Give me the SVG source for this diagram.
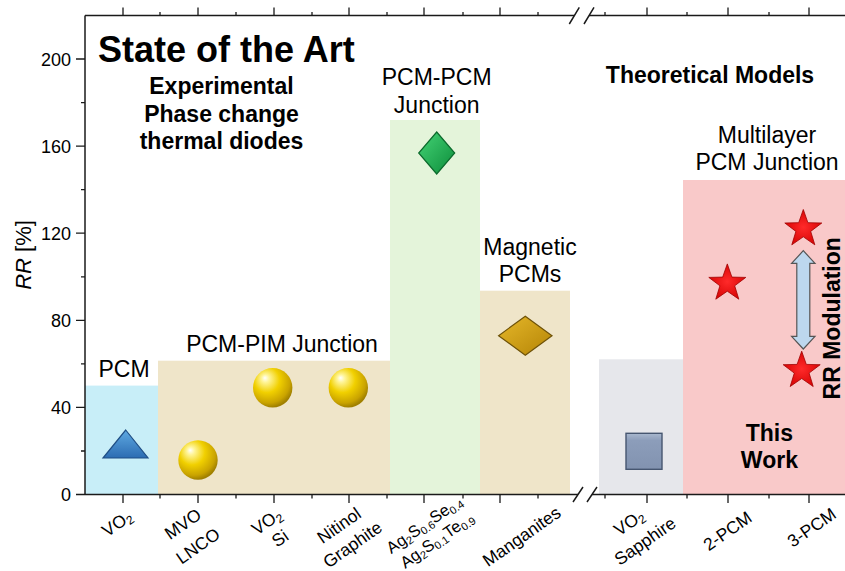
<svg xmlns="http://www.w3.org/2000/svg" width="845" height="571" viewBox="0 0 845 571">
<defs>
<style>
text{font-family:"Liberation Sans",Arial,sans-serif;fill:#000}
.lbl{font-size:23px}
.bold{font-size:23px;font-weight:bold}
.tick{font-size:18px}
.xl{font-size:17.5px}
.xs{font-size:16.5px}
.ax{stroke:#1a1a1a;stroke-width:1.5;fill:none}
.tk{stroke:#1a1a1a;stroke-width:1.3;fill:none}
</style>
<radialGradient id="sph" cx="0.4" cy="0.35" r="0.65" fx="0.3" fy="0.25">
<stop offset="0" stop-color="#ffffff"/>
<stop offset="0.15" stop-color="#fff59a"/>
<stop offset="0.5" stop-color="#f1d000"/>
<stop offset="0.85" stop-color="#c9a300"/>
<stop offset="1" stop-color="#a08000"/>
</radialGradient>
<linearGradient id="tri" x1="0" y1="0" x2="0" y2="1">
<stop offset="0" stop-color="#5ea9e2"/>
<stop offset="1" stop-color="#2c6cb2"/>
</linearGradient>
<linearGradient id="grn" x1="0" y1="0" x2="1" y2="1">
<stop offset="0" stop-color="#45d476"/>
<stop offset="1" stop-color="#0c8c3a"/>
</linearGradient>
<linearGradient id="gld" x1="0" y1="0" x2="1" y2="1">
<stop offset="0" stop-color="#e6b82a"/>
<stop offset="1" stop-color="#b48406"/>
</linearGradient>
<linearGradient id="sq" x1="0" y1="0" x2="0" y2="1">
<stop offset="0" stop-color="#a9b8ce"/>
<stop offset="0.2" stop-color="#8c9dba"/>
<stop offset="1" stop-color="#8293b0"/>
</linearGradient>
<radialGradient id="str" cx="0.5" cy="0.5" r="0.6">
<stop offset="0" stop-color="#ff2a2a"/>
<stop offset="1" stop-color="#d20000"/>
</radialGradient>
<path id="star" d="M0,-19.5 L4.6,-6.3 L18.5,-6 L7.4,2.4 L11.5,15.8 L0,7.8 L-11.5,15.8 L-7.4,2.4 L-18.5,-6 L-4.6,-6.3 Z" fill="url(#str)" stroke="#a00000" stroke-width="0.8"/>
</defs>
<rect width="845" height="571" fill="#ffffff"/>

<g id="regions">
<rect id="reg-pcm" x="85" y="385.6" width="73" height="108.9" fill="#c8eef8"/>
<rect id="reg-pim" x="158" y="360.7" width="232" height="133.8" fill="#efe5c9"/>
<rect id="reg-pcmpcm" x="390" y="120" width="90" height="374.5" fill="#e4f4da"/>
<rect id="reg-mag" x="480" y="290.7" width="90" height="203.8" fill="#efe5c9"/>
<rect id="reg-sapph" x="599" y="359.3" width="84" height="135.2" fill="#e6e7eb"/>
<rect id="reg-this" x="683" y="180" width="162" height="314.5" fill="#f9c9c9"/>
</g>

<g id="axes">
<line class="ax" x1="85" y1="15.5" x2="85" y2="494.5"/>
<path class="ax" d="M85,15.5 H574 M589,15.5 H845"/>
<path class="ax" d="M85,494.5 H578 M592,494.5 H845"/>
<path class="ax" d="M569.3,24 L579.3,7.3 M584,24 L594,7.3"/>
<path class="ax" d="M573,502 L583,487 M587,502 L597,487"/>
<path class="tk" d="M85,494.5 H76 M85,407.4 H76 M85,320.3 H76 M85,233.2 H76 M85,146.1 H76 M85,59 H76 M85,451 H81 M85,363.9 H81 M85,276.8 H81 M85,189.7 H81 M85,102.6 H81"/>
<path class="tk" d="M123,15.5 V7.5 M198,15.5 V7.5 M274,15.5 V7.5 M349,15.5 V7.5 M424,15.5 V7.5 M500,15.5 V7.5 M647,15.5 V7.5 M728,15.5 V7.5 M809,15.5 V7.5 M160,15.5 V12 M236,15.5 V12 M312,15.5 V12 M387,15.5 V12 M463,15.5 V12 M538,15.5 V12 M605,15.5 V12 M687,15.5 V12 M769,15.5 V12"/>
<path class="tk" d="M123,494.5 V503 M198,494.5 V503 M274,494.5 V503 M349,494.5 V503 M424,494.5 V503 M500,494.5 V503 M647,494.5 V503 M728,494.5 V503 M809,494.5 V503 M160,494.5 V498.5 M236,494.5 V498.5 M312,494.5 V498.5 M387,494.5 V498.5 M463,494.5 V498.5 M538,494.5 V498.5 M605,494.5 V498.5 M687,494.5 V498.5 M769,494.5 V498.5"/>
<g text-anchor="end">
<text class="tick" x="71" y="501">0</text>
<text class="tick" x="71" y="413.9">40</text>
<text class="tick" x="71" y="326.8">80</text>
<text class="tick" x="71" y="239.7">120</text>
<text class="tick" x="71" y="152.6">160</text>
<text class="tick" x="71" y="65.5">200</text>
</g>
<g transform="translate(30.5,255) rotate(-90)"><text text-anchor="middle" font-size="22"><tspan font-style="italic">RR</tspan> [%]</text></g>
</g>

<g id="xlabels" text-anchor="middle">
<g transform="translate(117,523.3) rotate(-35)"><text class="xl" y="6">VO<tspan font-size="12" dy="3">2</tspan></text></g>
<g transform="translate(183,524) rotate(-35)"><text class="xl" y="6">MVO</text></g>
<g transform="translate(198,546) rotate(-35)"><text class="xl" y="6">LNCO</text></g>
<g transform="translate(266.7,521.7) rotate(-35)"><text class="xl" y="6">VO<tspan font-size="12" dy="3">2</tspan></text></g>
<g transform="translate(280,538.3) rotate(-35)"><text class="xl" y="6">Si</text></g>
<g transform="translate(339,525.5) rotate(-35)"><text class="xl" y="6">Nitinol</text></g>
<g transform="translate(352.5,544.5) rotate(-35)"><text class="xl" y="6">Graphite</text></g>
<g transform="translate(424,524) rotate(-35)"><text class="xs" y="6">Ag<tspan font-size="11" dy="3">2</tspan><tspan dy="-3">S</tspan><tspan font-size="11" dy="3">0.6</tspan><tspan dy="-3">Se</tspan><tspan font-size="11" dy="3">0.4</tspan></text></g>
<g transform="translate(436.7,539.5) rotate(-35)"><text class="xs" y="6">Ag<tspan font-size="11" dy="3">2</tspan><tspan dy="-3">S</tspan><tspan font-size="11" dy="3">0.1</tspan><tspan dy="-3">Te</tspan><tspan font-size="11" dy="3">0.9</tspan></text></g>
<g transform="translate(521.7,536.5) rotate(-35)"><text class="xl" y="6">Manganites</text></g>
<g transform="translate(629,522.5) rotate(-35)"><text class="xl" y="6">VO<tspan font-size="12" dy="3">2</tspan></text></g>
<g transform="translate(645,541) rotate(-35)"><text class="xl" y="6">Sapphire</text></g>
<g transform="translate(727.5,531) rotate(-35)"><text class="xl" y="6">2-PCM</text></g>
<g transform="translate(811.7,527.5) rotate(-35)"><text class="xl" y="6">3-PCM</text></g>
</g>

<g id="title">
<text x="98" y="62" font-size="36" font-weight="bold">State of the Art</text>
</g>
<g id="label-experimental" text-anchor="middle">
<text class="bold" x="221.5" y="94">Experimental</text>
<text class="bold" x="221.5" y="121.5">Phase change</text>
<text class="bold" x="221.5" y="149">thermal diodes</text>
</g>
<g id="label-theoretical">
<text class="bold" x="710" y="83" text-anchor="middle">Theoretical Models</text>
</g>
<g id="label-pcm"><text class="lbl" x="124" y="377" text-anchor="middle">PCM</text></g>
<g id="label-pim"><text class="lbl" x="282" y="352" text-anchor="middle">PCM-PIM Junction</text></g>
<g id="label-pcmpcm" text-anchor="middle">
<text class="lbl" x="436.7" y="85">PCM-PCM</text>
<text class="lbl" x="436.7" y="112.5">Junction</text>
</g>
<g id="label-magnetic" text-anchor="middle">
<text class="lbl" x="530" y="255">Magnetic</text>
<text class="lbl" x="530" y="281.7">PCMs</text>
</g>
<g id="label-multilayer" text-anchor="middle">
<text class="lbl" x="767" y="143.3">Multilayer</text>
<text class="lbl" x="767" y="170">PCM Junction</text>
</g>
<g id="label-thiswork" text-anchor="middle">
<text class="bold" x="769.4" y="440.7">This</text>
<text class="bold" x="769.4" y="468.3">Work</text>
</g>
<g id="label-rrmod" transform="translate(840,318.3) rotate(-90)">
<text class="bold" text-anchor="middle">RR Modulation</text>
</g>

<g id="markers">
<path id="m-vo2" d="M125.7,430 L148,458 L103,458 Z" fill="url(#tri)" stroke="#1f4e85" stroke-width="1.2"/>
<circle id="m-mvo" cx="198" cy="460" r="19.7" fill="url(#sph)"/>
<circle id="m-vo2si" cx="272.7" cy="387.7" r="19.7" fill="url(#sph)"/>
<circle id="m-nitinol" cx="348.3" cy="387.7" r="19.7" fill="url(#sph)"/>
<path id="m-ag" d="M436.7,132 L454.7,153 L436.7,174 L418.7,153 Z" fill="url(#grn)" stroke="#0b6a2c" stroke-width="1.2"/>
<path id="m-mang" d="M525.3,316.2 L552,335.7 L525.3,355.2 L498.6,335.7 Z" fill="url(#gld)" stroke="#6e5208" stroke-width="1.2"/>
<rect id="m-sapph" x="626" y="433.3" width="36" height="36" fill="url(#sq)" stroke="#465670" stroke-width="1.4"/>
<use id="m-2pcm" href="#star" x="727.3" y="283.4"/>
<use id="m-3pcm-hi" href="#star" x="803.3" y="229"/>
<use id="m-3pcm-lo" href="#star" x="801.7" y="370.7"/>
</g>

<g id="connectors">
<path id="rr-arrow" d="M803.3,250.7 L815,263.4 L809.8,263.4 L809.8,336.3 L815,336.3 L803.3,349 L791.6,336.3 L796.8,336.3 L796.8,263.4 L791.6,263.4 Z" fill="#bdd7ee" stroke="#555555" stroke-width="1.2" stroke-linejoin="miter"/>
</g>
</svg>
